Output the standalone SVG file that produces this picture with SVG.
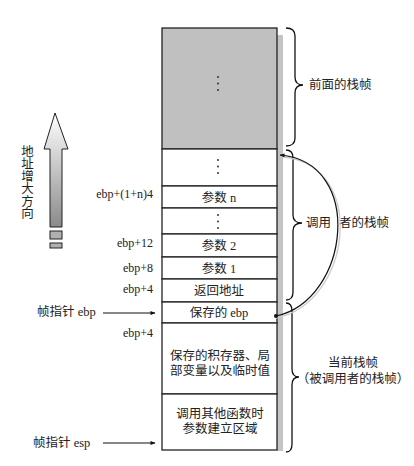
<svg xmlns="http://www.w3.org/2000/svg" width="414" height="466" viewBox="0 0 414 466">
<defs>
<linearGradient id="ag" x1="0" y1="0" x2="0" y2="1">
<stop offset="0" stop-color="#ffffff"/>
<stop offset="1" stop-color="#8a8a8a"/>
</linearGradient>
<marker id="ah" viewBox="0 0 10 10" refX="9" refY="5" markerWidth="7" markerHeight="5" orient="auto" markerUnits="userSpaceOnUse">
<path d="M0,1 L10,5 L0,9 Z" fill="#111"/>
</marker>
</defs>
<style>
.t{font-family:"Liberation Serif","Noto Sans CJK SC",serif;font-size:12.5px;fill:#222}
.l{font-family:"Liberation Serif","Noto Sans CJK SC",serif;font-size:12px;fill:#222;text-anchor:end}
.c{text-anchor:middle}
.cell{fill:#fff;stroke:#222;stroke-width:1.3}
.br{fill:none;stroke:#111;stroke-width:1.3}
.dot{fill:#333}
</style>
<rect width="414" height="466" fill="#fff"/>
<!-- shadow strip -->
<rect x="277" y="35" width="6" height="416" fill="#c4c4c4"/>

<g id="frame-prev">
<rect x="162" y="28" width="115" height="121" fill="#c0c0c0" stroke="#222" stroke-width="1.3"/>
<circle class="dot" cx="218" cy="77" r="1"/><circle class="dot" cx="218" cy="83.5" r="1"/><circle class="dot" cx="218" cy="90" r="1"/>
</g>
<g id="row-dots1">
<rect class="cell" x="162" y="149" width="115" height="37"/>
<circle class="dot" cx="218" cy="160" r="1"/><circle class="dot" cx="218" cy="166.5" r="1"/><circle class="dot" cx="218" cy="173" r="1"/>
</g>
<g id="row-argn">
<rect class="cell" x="162" y="186" width="115" height="22"/>
<text class="t c" x="219" y="201.5">参数 n</text>
</g>
<g id="row-dots2">
<rect class="cell" x="162" y="208" width="115" height="26"/>
<circle class="dot" cx="218" cy="215" r="1"/><circle class="dot" cx="218" cy="221.5" r="1"/><circle class="dot" cx="218" cy="228" r="1"/>
</g>
<g id="row-arg2">
<rect class="cell" x="162" y="234" width="115" height="23"/>
<text class="t c" x="219" y="250">参数 2</text>
</g>
<g id="row-arg1">
<rect class="cell" x="162" y="257" width="115" height="22"/>
<text class="t c" x="219" y="272.5">参数 1</text>
</g>
<g id="row-ret">
<rect class="cell" x="162" y="279" width="115" height="23"/>
<text class="t c" x="219" y="295">返回地址</text>
</g>
<g id="row-ebp">
<rect class="cell" x="162" y="302" width="115" height="21"/>
<text class="t c" x="219" y="317">保存的 ebp</text>
</g>
<g id="row-locals">
<rect class="cell" x="162" y="323" width="115" height="71"/>
<text class="t c" x="220" y="360">保存的积存器、局</text>
<text class="t c" x="220" y="375">部变量以及临时值</text>
</g>
<g id="row-args">
<rect class="cell" x="162" y="394" width="115" height="56"/>
<text class="t c" x="220" y="418">调用其他函数时</text>
<text class="t c" x="220" y="432.5">参数建立区域</text>
</g>

<g id="left-labels">
<text class="l" x="153" y="198">ebp+(1+n)4</text>
<text class="l" x="153" y="247">ebp+12</text>
<text class="l" x="153" y="272">ebp+8</text>
<text class="l" x="153" y="293">ebp+4</text>
<text class="l" x="153" y="337">ebp+4</text>
<text class="t" x="37" y="316">帧指针 ebp</text>
<text class="t" x="33" y="447">帧指针 esp</text>
</g>

<g id="addr-arrow">
<path d="M55,113 L68,149 L62,149 L62,227 L50,227 L50,149 L44,149 Z" fill="url(#ag)" stroke="#222" stroke-width="1"/>
<rect x="50" y="231" width="12" height="8" fill="#b0b0b0" stroke="#222" stroke-width="1"/>
<rect x="50" y="243" width="12" height="5" fill="#b0b0b0" stroke="#222" stroke-width="1"/>
<text class="t c" x="27.5" y="155.5">地</text>
<text class="t c" x="27.5" y="168">址</text>
<text class="t c" x="27.5" y="180.5">增</text>
<text class="t c" x="27.5" y="193">大</text>
<text class="t c" x="27.5" y="205.5">方</text>
<text class="t c" x="27.5" y="218">向</text>
</g>

<g id="braces">
<path class="br" d="M286,28 Q295,28 295,36 L295,77 Q295,85 303,85 Q295,85 295,93 L295,138 Q295,146 286,146"/>
<path class="br" d="M286,150 Q293,150 293,158 L293,215 Q293,223 302,223 Q293,223 293,231 L293,292 Q293,300 286,300"/>
<path class="br" d="M286,303 Q292,303 292,311 L292,369 Q292,377 299,377 Q292,377 292,385 L292,444 Q292,452 286,452"/>
<text class="t" x="309" y="89">前面的栈帧</text>
<text class="t" x="306" y="227">调用</text>
<text class="t" x="339" y="227">者的栈帧</text>
<text class="t c" x="353" y="367">当前栈帧</text>
<text class="t c" x="353" y="383">（被调用者的栈帧）</text>
</g>

<g id="connectors">
<path d="M276,318 C352,303 368,165 283,157" fill="none" stroke="#ccc" stroke-width="1.3"/>
<path d="M276,316 C350,300 365,162 280,155" fill="none" stroke="#111" stroke-width="1.2" marker-end="url(#ah)"/>
<circle cx="276" cy="316" r="2" fill="#111"/>
<line x1="103" y1="313" x2="155" y2="313" stroke="#111" stroke-width="1.1" marker-end="url(#ah)"/>
<line x1="103" y1="443" x2="155" y2="443" stroke="#111" stroke-width="1.1" marker-end="url(#ah)"/>
</g>
</svg>
